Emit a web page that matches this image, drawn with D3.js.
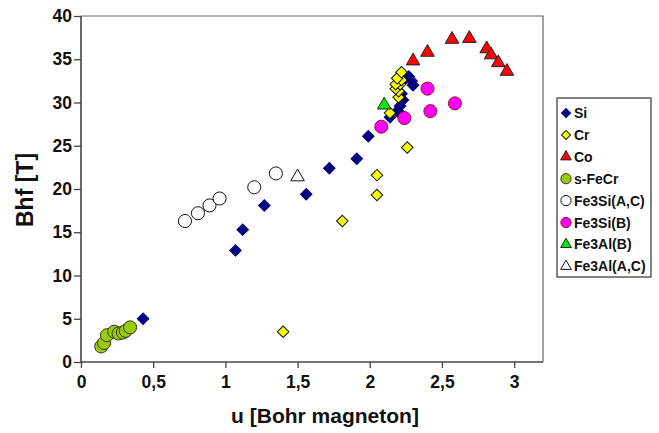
<!DOCTYPE html>
<html>
<head>
<meta charset="utf-8">
<script src="https://cdn.jsdelivr.net/npm/d3@7"></script>
<style>
body { margin: 0; background: #fff; }
text { font-family: "Liberation Sans", Arial, sans-serif; font-weight: bold; fill: #111; }
</style>
</head>
<body>
<div id="chart"></div>
<script>
// series values: [u, Bhf]
var si = [[0.43, 5.0], [1.07, 12.9], [1.12, 15.3], [1.27, 18.1], [1.56, 19.4], [1.72, 22.4],
    [1.91, 23.5], [1.99, 26.1], [2.14, 28.3], [2.19, 29.0], [2.21, 29.6], [2.23, 30.3],
    [2.22, 31.0], [2.25, 32.8], [2.27, 33.0], [2.29, 32.5], [2.30, 32.0], [2.22, 28.6]];
var cr = [[1.40, 3.5], [1.81, 16.3], [2.05, 19.3], [2.05, 21.6], [2.26, 24.8], [2.14, 28.8],
    [2.20, 30.6], [2.20, 31.3], [2.18, 31.6], [2.21, 32.1], [2.18, 32.1], [2.22, 32.6],
    [2.19, 32.8], [2.22, 33.5]];
var co = [[2.30, 34.8], [2.40, 35.8], [2.57, 37.3], [2.69, 37.4], [2.81, 36.2], [2.84, 35.5],
    [2.89, 34.6], [2.95, 33.6]];
var sFeCr = [[0.14, 1.8], [0.16, 2.2], [0.18, 3.1], [0.23, 3.5], [0.26, 3.3], [0.29, 3.4],
    [0.31, 3.6], [0.34, 4.0]];
var fe3SiAC = [[0.72, 16.3], [0.81, 17.2], [0.89, 18.1], [0.96, 18.9], [1.20, 20.2], [1.35, 21.8]];
var fe3SiB = [[2.08, 27.2], [2.24, 28.2], [2.42, 29.0], [2.40, 31.6], [2.59, 29.9]];
var fe3AlB = [[2.10, 29.7]];
var fe3AlAC = [[1.50, 21.4]];

var seriesNames = ["Si", "Cr", "Co", "s-FeCr", "Fe3Si(A,C)", "Fe3Si(B)", "Fe3Al(B)", "Fe3Al(A,C)"];
var seriesData = [si, cr, co, sFeCr, fe3SiAC, fe3SiB, fe3AlB, fe3AlAC];
var xTicks = [0, 0.5, 1, 1.5, 2, 2.5, 3];
var yTicks = [0, 5, 10, 15, 20, 25, 30, 35, 40];

// marker styles per series
var styles = [
    {shape: "diamond", fill: "#000080", stroke: "#000080"},
    {shape: "diamond", fill: "#ffff00", stroke: "#111"},
    {shape: "triangle", fill: "#ff0000", stroke: "#222"},
    {shape: "circle", fill: "#99cc00", stroke: "#333"},
    {shape: "circle", fill: "#fff", stroke: "#111"},
    {shape: "circle", fill: "#ff00ff", stroke: "#8b1a1a"},
    {shape: "triangle", fill: "#00ee00", stroke: "#222"},
    {shape: "triangle", fill: "#fff", stroke: "#111"}
];

var margin = {top: 16, left: 81, right: 116, bottom: 71};
var W = 659, H = 433;
var width = W - margin.left - margin.right,
    height = H - margin.top - margin.bottom;

var svg = d3.select("#chart").append("svg")
    .attr("width", W)
    .attr("height", H);
var g = svg.append("g")
    .attr("transform", "translate(" + margin.left + "," + margin.top + ")");

var x = d3.scaleLinear().domain([0, 3.2]).range([0, width]);
var y = d3.scaleLinear().domain([0, 40]).range([height, 0]);

function symbolPath(shape, big) {
    var k = big ? 1 : 0.62;
    if (shape == "diamond") return d3.symbol().type(d3.symbolSquare).size(66 * k)();
    if (shape == "triangle") return d3.symbol().type(d3.symbolTriangle).size(80 * k)();
    return d3.symbol().type(d3.symbolCircle).size(134 * k)();
}

// frame top and right
g.append("path")
    .attr("d", "M0,0H" + width + "V" + height)
    .attr("fill", "none")
    .attr("stroke", "#666")
    .attr("stroke-width", 1.2);

var fmt = function(d) { return String(d).replace(".", ","); };

var xAxis = g.append("g")
    .attr("transform", "translate(0," + height + ")")
    .call(d3.axisBottom(x).tickValues(xTicks).tickFormat(fmt).tickSize(6).tickPadding(8));
var yAxis = g.append("g")
    .call(d3.axisLeft(y).tickValues(yTicks).tickSize(7).tickPadding(2));

[xAxis, yAxis].forEach(function(a) {
    a.select(".domain").attr("stroke", "#444").attr("stroke-width", 1.6);
    a.selectAll(".tick line").attr("stroke", "#444").attr("stroke-width", 1.3);
    a.selectAll(".tick text")
        .style("font-family", "'Liberation Sans', Arial, sans-serif")
        .style("font-weight", "bold")
        .style("font-size", "17.5px")
        .attr("fill", "#111");
});
xAxis.select(".domain").attr("d", "M0,0H" + width);
yAxis.select(".domain").attr("d", "M0," + height + "V0");

// points
seriesData.forEach(function(data, i) {
    var st = styles[i];
    g.append("g").selectAll("path")
        .data(data)
        .enter().append("path")
        .attr("d", symbolPath(st.shape, true))
        .attr("transform", function(d) {
            return "translate(" + x(d[0]) + "," + y(d[1]) + ")" + (st.shape == "diamond" ? " rotate(45)" : "");
        })
        .attr("fill", st.fill)
        .attr("stroke", st.stroke)
        .attr("stroke-width", 1);
});

// axis titles
svg.append("text")
    .attr("x", 325)
    .attr("y", 423)
    .attr("text-anchor", "middle")
    .style("font-size", "21px")
    .text("u [Bohr magneton]");
svg.append("text")
    .attr("transform", "translate(33,190) rotate(-90)")
    .attr("text-anchor", "middle")
    .style("font-size", "23px")
    .text("Bhf [T]");

// legend
var legend = svg.append("g").attr("transform", "translate(557,98)");
legend.append("rect")
    .attr("width", 94)
    .attr("height", 179)
    .attr("fill", "#fff")
    .attr("stroke", "#333")
    .attr("stroke-width", 1.2);
var items = legend.selectAll(".item")
    .data(seriesNames)
    .enter().append("g")
    .attr("transform", function(d, i) { return "translate(0," + (15 + i * 21.9) + ")"; });
items.append("path")
    .attr("d", function(d, i) { return symbolPath(styles[i].shape, false); })
    .attr("transform", function(d, i) { return "translate(9,0)" + (styles[i].shape == "diamond" ? " rotate(45)" : ""); })
    .attr("fill", function(d, i) { return styles[i].fill; })
    .attr("stroke", function(d, i) { return styles[i].stroke; })
    .attr("stroke-width", 1);
items.append("text")
    .attr("x", 17)
    .attr("y", 5)
    .style("font-size", "14px")
    .text(function(d) { return d; });
</script>
</body>
</html>
